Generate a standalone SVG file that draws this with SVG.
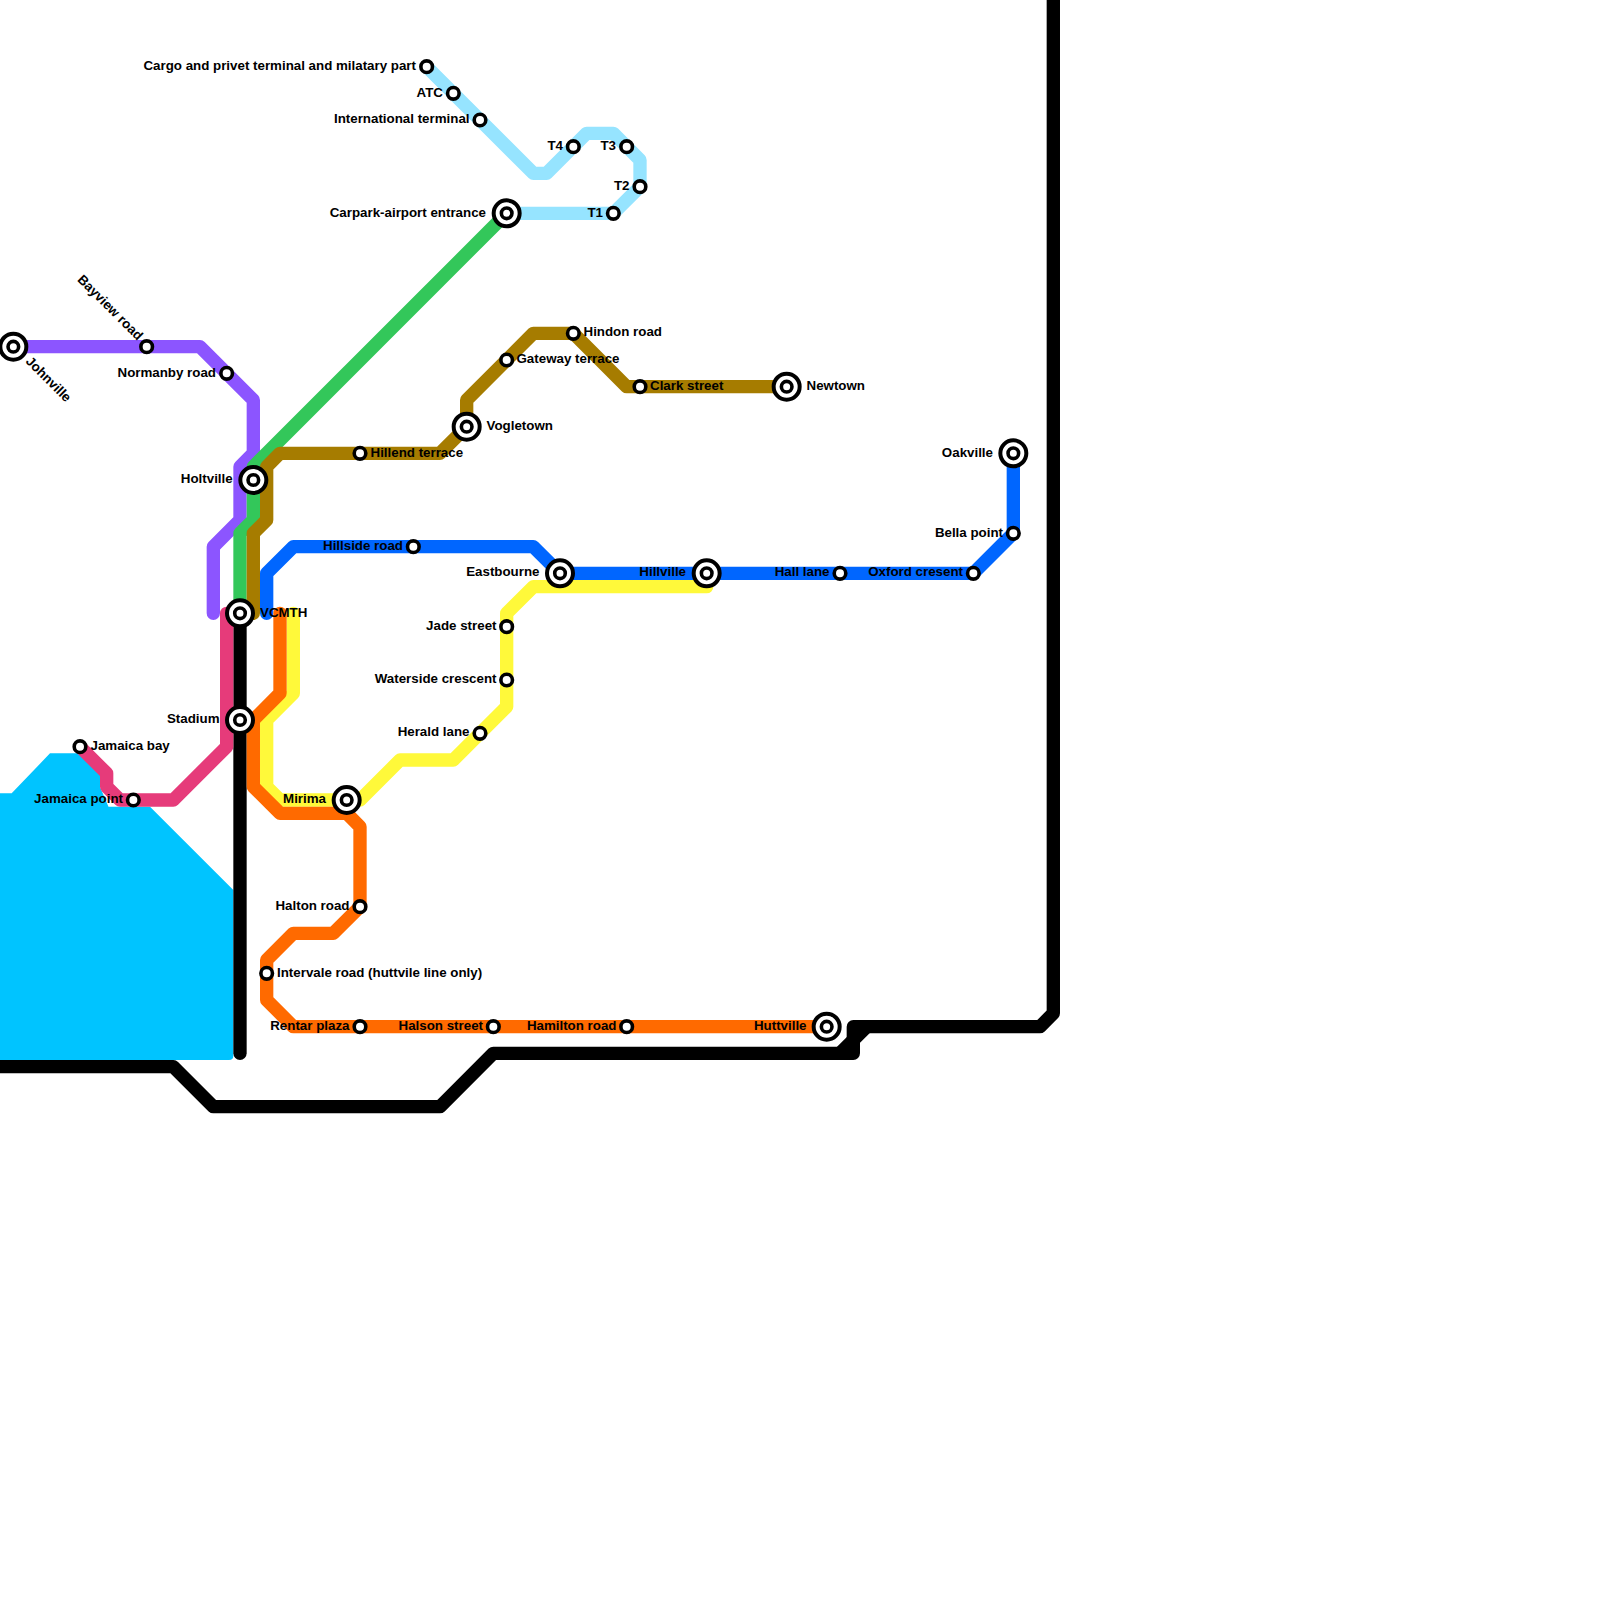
<svg xmlns="http://www.w3.org/2000/svg" width="1600" height="1600" viewBox="0 0 1600 1600">
<style>
.ln{fill:none;stroke-width:13.33;stroke-linejoin:round;stroke-linecap:round}
.a{fill:#fff;stroke:#000;stroke-width:4}
.i{fill:#fff;stroke:#000;stroke-width:3.6}
.b{fill:#fff;stroke:#000;stroke-width:3.6}
text{font-family:"Liberation Sans",Arial,sans-serif;font-weight:bold;font-size:13.33px;fill:#000}
.e{text-anchor:end}
</style>
<rect width="1600" height="1600" fill="#fff"/>
<path id="water" d="M0 793.33H11.67L50 753.33H80L100 773.33V787L108.5 806.67H150L233.33 890V1056Q233.33 1060 229 1060H0Z" fill="#00c4ff"/>
<g id="connectors">
<path class="ln" stroke="#000" d="M240 613.33V1053.33"/>
<path class="ln" stroke="#000" d="M1053.33 -10V1013.33L1040 1026.67H853.33V1053.33H493.33L440 1106.67H213.33L173.33 1066.67H-10"/>
<path class="ln" stroke="#000" d="M866.67 1026.67L840 1053.33"/>
<path class="ln" stroke="#96e4ff" d="M426.67 66.67L533.33 173.33H546.67L586.67 133.33H613.33L640 160V186.67L613.33 213.33H506.67"/>
<path class="ln" stroke="#8c55ff" d="M13.33 346.67H200L253.33 400V453.33L240 466.67V520L213.33 546.67V613.33"/>
<path class="ln" stroke="#33c75a" d="M506.67 213.33L253.33 466.67V520L240 533.33V613.33"/>
<path class="ln" stroke="#a67c00" d="M786.67 386.67H626.67L573.33 333.33H533.33L466.67 400V426.67L440 453.33H280L266.67 466.67V520L253.33 533.33V613.33"/>
<path class="ln" stroke="#0066ff" d="M1013.33 453.33V533.33L973.33 573.33H560L533.33 546.67H293.33L266.67 573.33V613.33"/>
<path class="ln" stroke="#fff93a" d="M293.33 613.33V693.33L266.67 720V786.67L280 800H360L400 760H453.33L506.67 706.67V613.33L533.33 586.67H706.67"/>
<path class="ln" stroke="#ff6a00" d="M280 613.33V693.33L253.33 720V786.67L280 813.33H346.67L360 826.67V906.67L333.33 933.33H293.33L266.67 960V1000L293.33 1026.67H826.67"/>
<path class="ln" stroke="#e63b7a" d="M226.67 613.33V746.67L173.33 800H120L106.67 786.67V773.33L80 746.67"/>
</g>
<g id="johnville"><circle class="a" cx="13.33" cy="346.67" r="13"/><circle class="i" cx="13.33" cy="346.67" r="5.3"/><text transform="translate(25 362) rotate(45)">Johnville</text></g>
<g id="bayview-road"><circle class="b" cx="146.67" cy="346.67" r="5.8"/><text class="e" transform="translate(137.5 341) rotate(45)">Bayview road</text></g>
<g id="normanby-road"><circle class="b" cx="226.67" cy="373.33" r="5.8"/><text class="e" x="216" y="377">Normanby road</text></g>
<g id="holtville"><circle class="a" cx="253.33" cy="480" r="13"/><circle class="i" cx="253.33" cy="480" r="5.3"/><text class="e" x="232.7" y="483">Holtville</text></g>
<g id="vcmth"><circle class="a" cx="240" cy="613.33" r="13"/><circle class="i" cx="240" cy="613.33" r="5.3"/><text x="260" y="616.5">VCMTH</text></g>
<g id="stadium"><circle class="a" cx="240" cy="720" r="13"/><circle class="i" cx="240" cy="720" r="5.3"/><text class="e" x="219.5" y="723">Stadium</text></g>
<g id="jamaica-bay"><circle class="b" cx="80" cy="746.67" r="5.8"/><text x="90.5" y="749.5">Jamaica bay</text></g>
<g id="jamaica-point"><circle class="b" cx="133.33" cy="800" r="5.8"/><text class="e" x="123" y="803">Jamaica point</text></g>
<g id="mirima"><circle class="a" cx="346.67" cy="800" r="13"/><circle class="i" cx="346.67" cy="800" r="5.3"/><text class="e" x="326" y="803">Mirima</text></g>
<g id="hillend-terrace"><circle class="b" cx="360" cy="453.33" r="5.8"/><text x="370.5" y="456.5">Hillend terrace</text></g>
<g id="vogletown"><circle class="a" cx="466.67" cy="426.67" r="13"/><circle class="i" cx="466.67" cy="426.67" r="5.3"/><text x="486.5" y="430">Vogletown</text></g>
<g id="gateway-terrace"><circle class="b" cx="506.67" cy="360" r="5.8"/><text x="516.5" y="362.5">Gateway terrace</text></g>
<g id="hindon-road"><circle class="b" cx="573.33" cy="333.33" r="5.8"/><text x="583.5" y="336">Hindon road</text></g>
<g id="clark-street"><circle class="b" cx="640" cy="386.67" r="5.8"/><text x="650" y="390">Clark street</text></g>
<g id="newtown"><circle class="a" cx="786.67" cy="386.67" r="13"/><circle class="i" cx="786.67" cy="386.67" r="5.3"/><text x="806.5" y="390">Newtown</text></g>
<g id="carpark"><circle class="a" cx="506.67" cy="213.33" r="13"/><circle class="i" cx="506.67" cy="213.33" r="5.3"/><text class="e" x="486" y="216.5">Carpark-airport entrance</text></g>
<g id="t1"><circle class="b" cx="613.33" cy="213.33" r="5.8"/><text class="e" x="603" y="216.5">T1</text></g>
<g id="t2"><circle class="b" cx="640" cy="186.67" r="5.8"/><text class="e" x="629.5" y="190">T2</text></g>
<g id="t3"><circle class="b" cx="626.67" cy="146.67" r="5.8"/><text class="e" x="616" y="150">T3</text></g>
<g id="t4"><circle class="b" cx="573.33" cy="146.67" r="5.8"/><text class="e" x="563" y="150">T4</text></g>
<g id="international-terminal"><circle class="b" cx="480" cy="120" r="5.8"/><text class="e" x="469.5" y="123">International terminal</text></g>
<g id="atc"><circle class="b" cx="453.33" cy="93.33" r="5.8"/><text class="e" x="443" y="96.5">ATC</text></g>
<g id="cargo"><circle class="b" cx="426.67" cy="66.67" r="5.8"/><text class="e" x="416" y="70">Cargo and privet terminal and milatary part</text></g>
<g id="hillside-road"><circle class="b" cx="413.33" cy="546.67" r="5.8"/><text class="e" x="403" y="550">Hillside road</text></g>
<g id="eastbourne"><circle class="a" cx="560" cy="573.33" r="13"/><circle class="i" cx="560" cy="573.33" r="5.3"/><text class="e" x="539.5" y="576">Eastbourne</text></g>
<g id="hillville"><circle class="a" cx="706.67" cy="573.33" r="13"/><circle class="i" cx="706.67" cy="573.33" r="5.3"/><text class="e" x="686" y="576">Hillville</text></g>
<g id="hall-lane"><circle class="b" cx="840" cy="573.33" r="5.8"/><text class="e" x="829.5" y="576">Hall lane</text></g>
<g id="oxford-cresent"><circle class="b" cx="973.33" cy="573.33" r="5.8"/><text class="e" x="963" y="576">Oxford cresent</text></g>
<g id="bella-point"><circle class="b" cx="1013.33" cy="533.33" r="5.8"/><text class="e" x="1003" y="536.5">Bella point</text></g>
<g id="oakville"><circle class="a" cx="1013.33" cy="453.33" r="13"/><circle class="i" cx="1013.33" cy="453.33" r="5.3"/><text class="e" x="993" y="456.5">Oakville</text></g>
<g id="jade-street"><circle class="b" cx="506.67" cy="626.67" r="5.8"/><text class="e" x="496.5" y="630">Jade street</text></g>
<g id="waterside-crescent"><circle class="b" cx="506.67" cy="680" r="5.8"/><text class="e" x="496.5" y="683">Waterside crescent</text></g>
<g id="herald-lane"><circle class="b" cx="480" cy="733.33" r="5.8"/><text class="e" x="469.5" y="736">Herald lane</text></g>
<g id="halton-road"><circle class="b" cx="360" cy="906.67" r="5.8"/><text class="e" x="349.5" y="910">Halton road</text></g>
<g id="intervale-road"><circle class="b" cx="266.67" cy="973.33" r="5.8"/><text x="277" y="976.5">Intervale road (huttvile line only)</text></g>
<g id="rentar-plaza"><circle class="b" cx="360" cy="1026.67" r="5.8"/><text class="e" x="349.5" y="1030">Rentar plaza</text></g>
<g id="halson-street"><circle class="b" cx="493.33" cy="1026.67" r="5.8"/><text class="e" x="483" y="1030">Halson street</text></g>
<g id="hamilton-road"><circle class="b" cx="626.67" cy="1026.67" r="5.8"/><text class="e" x="616.5" y="1030">Hamilton road</text></g>
<g id="huttville"><circle class="a" cx="826.67" cy="1026.67" r="13"/><circle class="i" cx="826.67" cy="1026.67" r="5.3"/><text class="e" x="806.5" y="1030">Huttville</text></g>
</svg>
